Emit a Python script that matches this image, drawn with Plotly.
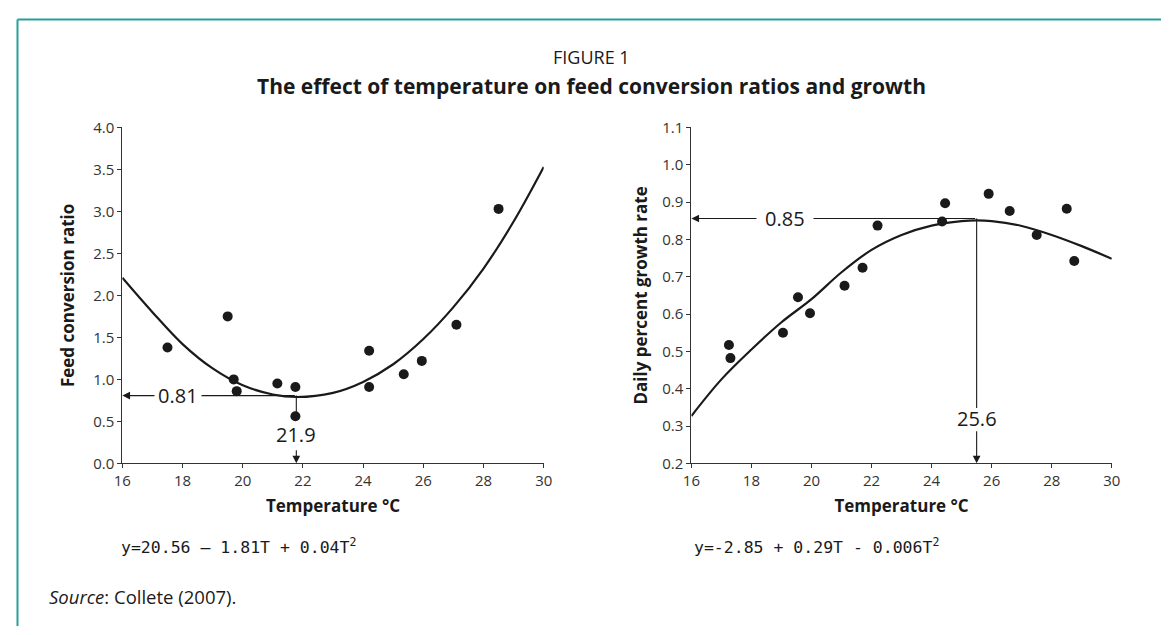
import plotly.graph_objects as go

# feed conversion ratio (left panel)
fcr_temp = [17.5, 19.5, 19.7, 19.8, 21.15, 21.75, 21.75, 24.2, 24.2, 25.35, 25.95, 27.1, 28.5]
fcr_vals = [1.38, 1.75, 1.00, 0.86, 0.95, 0.91, 0.56, 1.34, 0.91, 1.06, 1.22, 1.65, 3.03]
# fitted curve
fcr_curve_t = [16, 17, 18, 19, 20, 21, 21.8, 23, 24, 25, 26, 27, 28, 29, 30]
fcr_curve_y = [2.21, 1.80, 1.42, 1.13, 0.93, 0.82, 0.79, 0.84, 0.97, 1.18, 1.48, 1.86, 2.32, 2.88, 3.53]

# daily percent growth rate (right panel)
gr_temp = [17.25, 17.3, 19.05, 19.55, 19.95, 21.1, 21.7, 22.2, 24.35, 24.45, 25.9, 26.6, 27.5, 28.5, 28.75]
gr_vals = [0.517, 0.482, 0.550, 0.645, 0.602, 0.676, 0.724, 0.837, 0.848, 0.897, 0.922, 0.876, 0.812, 0.882, 0.742]
gr_curve_t = [16, 17, 18, 19, 20, 21, 22, 23, 24, 25, 25.5, 26, 27, 28, 29, 30]
gr_curve_y = [0.327, 0.425, 0.505, 0.578, 0.640, 0.712, 0.772, 0.812, 0.837, 0.849, 0.851, 0.849, 0.836, 0.812, 0.782, 0.748]

# optimum markers (where the guide lines are drawn, and what they say)
fcr_opt_t, fcr_opt_y = 21.78, 0.807
fcr_opt_t_label, fcr_opt_y_label = "21.9", "0.81"
gr_opt_t, gr_opt_y = 25.5, 0.856
gr_opt_t_label, gr_opt_y_label = "25.6", "0.85"

x_ticks = [16, 18, 20, 22, 24, 26, 28, 30]
fcr_ticks = [0, 0.5, 1.0, 1.5, 2.0, 2.5, 3.0, 3.5, 4.0]
gr_ticks = [0.2, 0.3, 0.4, 0.5, 0.6, 0.7, 0.8, 0.9, 1.0, 1.1]

# page has an 8px body margin, so size the figure to fit the window
W, H = 1162, 627
OFF = 8


def px(x):
    return (x - OFF) / W


def py(y):
    return 1 - (y - OFF) / H


FONT = "Open Sans"
INK = "#1a1a1a"

fig = go.Figure()
fig.add_trace(go.Scatter(x=fcr_curve_t, y=fcr_curve_y, mode="lines", line=dict(color=INK, width=2.2, shape="spline"),
                         xaxis="x", yaxis="y", cliponaxis=False, hoverinfo="skip"))
fig.add_trace(go.Scatter(x=fcr_temp, y=fcr_vals, mode="markers", marker=dict(color=INK, size=10),
                         xaxis="x", yaxis="y", cliponaxis=False))
fig.add_trace(go.Scatter(x=gr_curve_t, y=gr_curve_y, mode="lines", line=dict(color=INK, width=2.2, shape="spline"),
                         xaxis="x2", yaxis="y2", cliponaxis=False, hoverinfo="skip"))
fig.add_trace(go.Scatter(x=gr_temp, y=gr_vals, mode="markers", marker=dict(color=INK, size=10),
                         xaxis="x2", yaxis="y2", cliponaxis=False))

axis_common = dict(showgrid=False, zeroline=False, showline=True, linecolor="#333", linewidth=1.2,
                   ticks="outside", ticklen=4, tickcolor="#333", tickwidth=1,
                   tickfont=dict(family=FONT, size=15, color="#333"))
title_font = dict(family=FONT, size=17, color=INK)
ydom = [py(467), py(120)]

fig.update_layout(
    width=W, height=H, margin=dict(l=0, r=0, t=0, b=0),
    paper_bgcolor="white", plot_bgcolor="white", showlegend=False,
    xaxis=dict(domain=[px(115), px(543)], range=[16, 30], tickvals=x_ticks, anchor="y",
               title=dict(text="<b>Temperature °C</b>", font=title_font, standoff=10), **axis_common),
    yaxis=dict(domain=ydom, range=[0, 4.0], tickvals=fcr_ticks, tickformat=".1f", anchor="x",
               title=dict(text="<b>Feed conversion ratio</b>", font=title_font, standoff=14), **axis_common),
    xaxis2=dict(domain=[px(693), px(1120)], range=[16, 30], tickvals=x_ticks, anchor="y2",
                title=dict(text="<b>Temperature °C</b>", font=title_font, standoff=10), **axis_common),
    yaxis2=dict(domain=ydom, range=[0.2, 1.1], tickvals=gr_ticks, tickformat=".1f", anchor="x2",
                title=dict(text="<b>Daily percent growth rate</b>", font=title_font, standoff=10), **axis_common),
)

lbl = dict(family=FONT, size=20, color=INK)
arrow = dict(showarrow=True, arrowhead=2, arrowsize=1.4, arrowwidth=1.1, arrowcolor=INK, text="",
             standoff=0, startstandoff=0)
guide = dict(color=INK, width=1.1)

# left panel optimum guides: horizontal arrow to the y axis, broken by the label
fig.add_annotation(x=16, y=fcr_opt_y, ax=fcr_opt_t, ay=fcr_opt_y, xref="x", yref="y", axref="x", ayref="y", **arrow)
fig.add_annotation(x=17.85, y=fcr_opt_y, xref="x", yref="y", text=fcr_opt_y_label, showarrow=False,
                   font=lbl, bgcolor="white", borderpad=3)
# vertical drop, interrupted by its label
fig.add_shape(type="line", xref="x", yref="y", x0=fcr_opt_t, x1=fcr_opt_t, y0=fcr_opt_y, y1=0.56, line=guide)
fig.add_annotation(x=fcr_opt_t, y=0, ax=fcr_opt_t, ay=0.175, xref="x", yref="y", axref="x", ayref="y", **arrow)
fig.add_annotation(x=fcr_opt_t, y=0.345, xref="x", yref="y", text=fcr_opt_t_label, showarrow=False, font=lbl)

# right panel optimum guides
fig.add_annotation(x=16, y=gr_opt_y, ax=gr_opt_t, ay=gr_opt_y, xref="x2", yref="y2", axref="x2", ayref="y2", **arrow)
fig.add_annotation(x=19.13, y=gr_opt_y, xref="x2", yref="y2", text=gr_opt_y_label, showarrow=False,
                   font=lbl, bgcolor="white", borderpad=8)
fig.add_shape(type="line", xref="x2", yref="y2", x0=gr_opt_t, x1=gr_opt_t, y0=gr_opt_y, y1=0.348, line=guide)
fig.add_annotation(x=gr_opt_t, y=0.2, ax=gr_opt_t, ay=0.29, xref="x2", yref="y2", axref="x2", ayref="y2", **arrow)
fig.add_annotation(x=gr_opt_t, y=0.319, xref="x2", yref="y2", text=gr_opt_t_label, showarrow=False, font=lbl)

# titles
fig.add_annotation(x=px(592), y=py(47), xref="paper", yref="paper", yanchor="middle", text="FIGURE 1",
                   showarrow=False, font=dict(family=FONT, size=18, color=INK))
fig.add_annotation(x=px(592), y=py(77), xref="paper", yref="paper", yanchor="middle",
                   text="<b>The effect of temperature on feed conversion ratios and growth</b>", showarrow=False,
                   font=dict(family=FONT, size=21, color=INK))

# regression equations
eq = dict(family="DejaVu Sans Mono", size=16.5, color=INK)
fig.add_annotation(x=px(112), y=py(552), xref="paper", yref="paper", xanchor="left", yanchor="middle",
                   text="y=20.56 – 1.81T + 0.04T<sup>2</sup>", showarrow=False, font=eq)
fig.add_annotation(x=px(694), y=py(552), xref="paper", yref="paper", xanchor="left", yanchor="middle",
                   text="y=-2.85 + 0.29T - 0.006T<sup>2</sup>", showarrow=False, font=eq)

fig.add_annotation(x=px(38), y=py(605), xref="paper", yref="paper", xanchor="left", yanchor="middle",
                   text="<i>Source</i>: Collete (2007).", showarrow=False,
                   font=dict(family=FONT, size=18.5, color=INK))

# teal frame on top and left
teal = "#26a09c"
fig.add_shape(type="line", xref="paper", yref="paper", x0=0.5 / W, x1=1, y0=1 - 0.5 / H, y1=1 - 0.5 / H,
              line=dict(color=teal, width=2))
fig.add_shape(type="line", xref="paper", yref="paper", x0=0.5 / W, x1=0.5 / W, y0=0, y1=1 - 0.5 / H,
              line=dict(color=teal, width=2))

fig.write_html("out.html")
